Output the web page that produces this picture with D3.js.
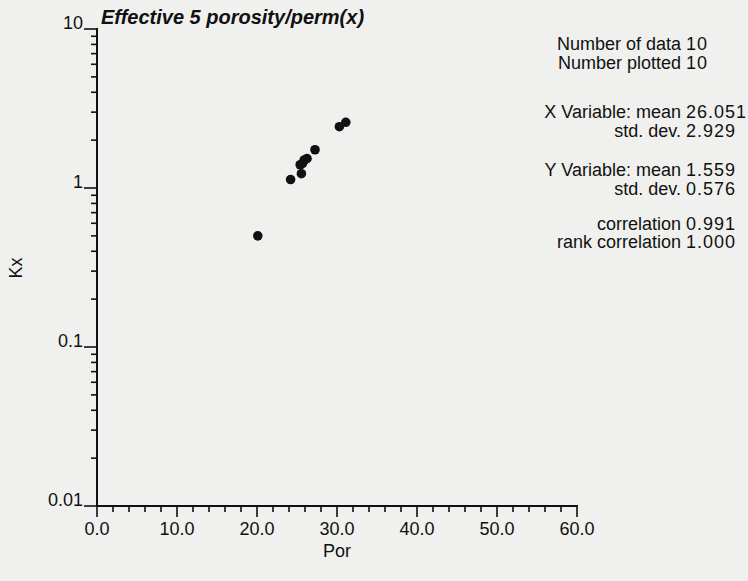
<!DOCTYPE html>
<html>
<head>
<meta charset="utf-8">
<script src="https://cdn.jsdelivr.net/npm/d3@7"></script>
<style>
  body { margin: 0; background: #f0f0ee; }
  svg { display: block; font-family: "Liberation Sans", Arial, sans-serif; }
</style>
</head>
<body>
<svg id="chart" width="748" height="581"></svg>
<script>
// porosity (x) and horizontal permeability (y)
var por = [20.1, 24.2, 25.55, 25.4, 25.7, 25.9, 26.25, 27.25, 30.3, 31.1];
var kx  = [0.50, 1.13, 1.23, 1.40, 1.43, 1.50, 1.53, 1.74, 2.43, 2.59];

var xTicks = [0, 10, 20, 30, 40, 50, 60];
var yTicks = [0.01, 0.1, 1, 10];
var yTickLabels = ["0.01", "0.1", "1", "10"];

var statLabels = ["Number of data", "Number plotted", "X Variable: mean", "std. dev.",
                  "Y Variable: mean", "std. dev.", "correlation", "rank correlation"];
var statValues = ["10", "10", "26.051", "2.929", "1.559", "0.576", "0.991", "1.000"];
var statY = [50, 68.5, 118, 136.5, 176, 195, 230, 248];

var svg = d3.select("#chart");
// plot box (don't use "top" as a global name, it's window.top)
var plotL = 97, plotR = 577, plotT = 29, plotB = 506;

var x = d3.scaleLinear().domain([0, 60]).range([plotL, plotR]);
var y = d3.scaleLog().domain([0.01, 10]).range([plotB, plotT]);

// x axis: major every 10, minor every 2
var xAxis = svg.append("g").attr("transform", "translate(0," + plotB + ")");
xAxis.append("line").attr("x1", plotL - 1).attr("x2", plotR + 1)
    .attr("stroke", "#111").attr("stroke-width", 2);
xAxis.selectAll("line.minor").data(d3.range(0, 61, 2)).enter().append("line")
    .attr("class", "minor")
    .attr("x1", function(d) { return x(d); }).attr("x2", function(d) { return x(d); })
    .attr("y1", 0).attr("y2", function(d) { return d % 10 == 0 ? 11 : 6; })
    .attr("stroke", "#111").attr("stroke-width", 1.6);
xAxis.selectAll("text").data(xTicks).enter().append("text")
    .attr("x", function(d) { return x(d); }).attr("y", 29)
    .attr("text-anchor", "middle").attr("font-size", 18).attr("fill", "#111")
    .text(function(d) { return d.toFixed(1); });

// y axis: log, minor ticks 2..9 per decade
var yMinor = [];
[0.01, 0.1, 1].forEach(function(dec) {
    for (var k = 2; k <= 9; k++) yMinor.push(dec * k);
});
var yAxis = svg.append("g").attr("transform", "translate(" + plotL + ",0)");
yAxis.append("line").attr("y1", plotT - 1).attr("y2", plotB + 1)
    .attr("stroke", "#111").attr("stroke-width", 2);
yAxis.selectAll("line.minor").data(yMinor).enter().append("line")
    .attr("class", "minor")
    .attr("y1", function(d) { return y(d); }).attr("y2", function(d) { return y(d); })
    .attr("x1", 0).attr("x2", -6)
    .attr("stroke", "#111").attr("stroke-width", 1.6);
yAxis.selectAll("line.major").data(yTicks).enter().append("line")
    .attr("class", "major")
    .attr("y1", function(d) { return y(d); }).attr("y2", function(d) { return y(d); })
    .attr("x1", 0).attr("x2", -13)
    .attr("stroke", "#111").attr("stroke-width", 1.6);
yAxis.selectAll("text").data(yTicks).enter().append("text")
    .attr("x", -14).attr("y", function(d) { return y(d); })
    .attr("text-anchor", "end").attr("font-size", 18).attr("fill", "#111")
    .text(function(d, i) { return yTickLabels[i]; });

// axis titles
svg.append("text").attr("x", (plotL + plotR) / 2).attr("y", 557)
    .attr("text-anchor", "middle").attr("font-size", 18).attr("fill", "#111").text("Por");
svg.append("text").attr("transform", "translate(22,268) rotate(-90)")
    .attr("text-anchor", "middle").attr("font-size", 18).attr("fill", "#111").text("Kx");

// title
svg.append("text").attr("x", 101).attr("y", 24)
    .attr("font-size", 20).attr("font-weight", "bold").attr("font-style", "italic")
    .attr("fill", "#111").text("Effective 5 porosity/perm(x)");

// points
svg.append("g").selectAll("circle").data(por).enter().append("circle")
    .attr("cx", function(d) { return x(d); })
    .attr("cy", function(d, i) { return y(kx[i]); })
    .attr("r", 4.8).attr("fill", "#111");

// statistics block
var stats = svg.append("g");
stats.selectAll("text.lab").data(statLabels).enter().append("text")
    .attr("class", "lab").attr("x", 681).attr("y", function(d, i) { return statY[i]; })
    .attr("text-anchor", "end").attr("font-size", 18).attr("fill", "#111")
    .text(function(d) { return d; });
stats.selectAll("text.val").data(statValues).enter().append("text")
    .attr("class", "val").attr("x", 686).attr("y", function(d, i) { return statY[i]; })
    .attr("font-size", 18).attr("letter-spacing", 1).attr("fill", "#111")
    .text(function(d) { return d; });
</script>
</body>
</html>
